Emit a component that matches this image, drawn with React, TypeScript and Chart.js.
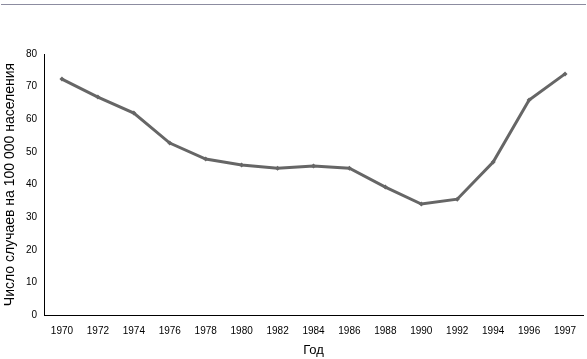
import React, { useEffect, useRef } from "react";
import { Chart, registerables } from "chart.js";

Chart.register(...registerables);

const years = ["1970", "1972", "1974", "1976", "1978", "1980", "1982", "1984", "1986", "1988", "1990", "1992", "1994", "1996", "1997"];
const rates = [72.3, 66.8, 61.9, 52.7, 47.8, 46.0, 45.0, 45.7, 45.0, 39.2, 34.0, 35.5, 46.9, 65.9, 73.9];
const yTicks = [0, 10, 20, 30, 40, 50, 60, 70, 80];
const yTitle = "Число случаев на 100 000 населения";
const xTitle = "Год";

export default function App() {
  const ref = useRef<HTMLCanvasElement | null>(null);
  useEffect(() => {
    document.body.style.margin = "0";
    const ctx = ref.current!;
    const chart = new Chart(ctx, {
      type: "line",
      data: {
        labels: years,
        datasets: [
          {
            data: rates,
            borderColor: "#666666",
            backgroundColor: "#666666",
            borderWidth: 3,
            pointStyle: "rectRot",
            pointRadius: 2.5,
            pointBorderWidth: 0,
            tension: 0,
          },
        ],
      },
      options: {
        animation: false,
        responsive: false,
        maintainAspectRatio: false,
        layout: { padding: { left: 0, right: 2, top: 54, bottom: 0 } },
        plugins: { legend: { display: false }, tooltip: { enabled: false } },
        scales: {
          x: {
            offset: true,
            grid: { display: false, drawTicks: false },
            border: { color: "#000", width: 1 },
            ticks: {
              color: "#000",
              font: { family: "Liberation Sans, Arial", size: 10 },
              padding: 10,
              maxRotation: 0,
              autoSkip: false,
            },
            title: {
              display: true,
              text: xTitle,
              color: "#000",
              font: { family: "Liberation Sans, Arial", size: 13 },
              padding: { top: 0, bottom: 1 },
            },
            afterFit: (s: any) => {
              s.height = 44;
            },
          },
          y: {
            min: 0,
            max: 80,
            afterBuildTicks: (s: any) => {
              s.ticks = yTicks.map((v) => ({ value: v }));
            },
            grid: { display: false, drawTicks: false },
            border: { color: "#000", width: 1 },
            ticks: {
              color: "#000",
              font: { family: "Liberation Sans, Arial", size: 10 },
              padding: 7,
            },
            title: {
              display: true,
              text: yTitle,
              color: "#000",
              font: { family: "Liberation Sans, Arial", size: 14 },
              padding: { top: 2, bottom: 0 },
            },
            afterFit: (s: any) => {
              s.width = 44;
            },
          },
        },
      },
    });
    return () => chart.destroy();
  }, []);
  return (
    <div style={{ position: "fixed", left: 0, top: 0, width: 587, height: 359, background: "#fff" }}>
      <div style={{ position: "absolute", left: 1, top: 4, width: 585, height: 1, background: "#8c8ca0" }} />
      <canvas ref={ref} width={587} height={359} style={{ position: "absolute", left: 0, top: 0 }} />
    </div>
  );
}
